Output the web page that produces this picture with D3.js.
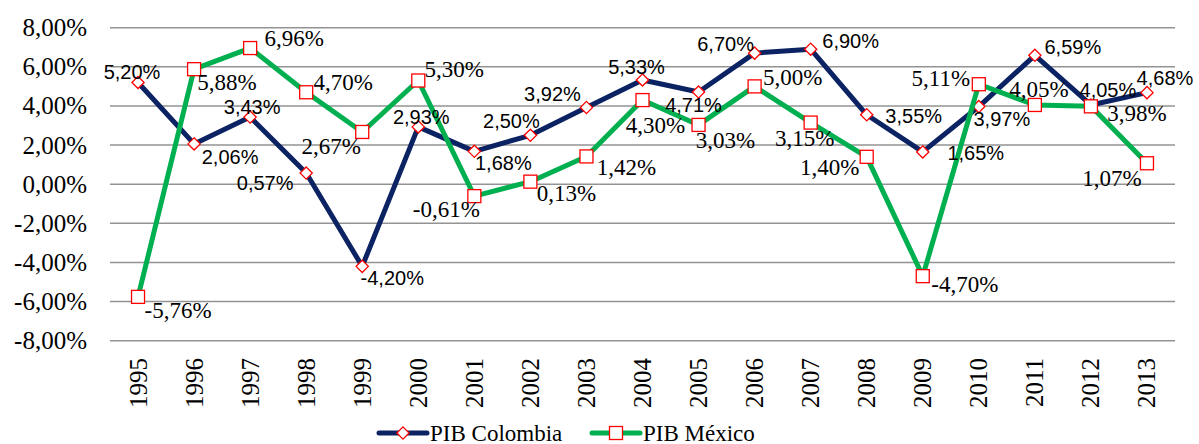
<!DOCTYPE html>
<html>
<head>
<meta charset="utf-8">
<script src="https://cdn.jsdelivr.net/npm/d3@7"></script>
<style>
  body { margin: 0; background: #fff; }
  svg { display: block; }
  .serif { font-family: "Liberation Serif", "Times New Roman", serif; }
  .sans { font-family: "Liberation Sans", Arial, sans-serif; }
</style>
</head>
<body>
<div class="container"></div>
<script>
// data
const years = ["1995","1996","1997","1998","1999","2000","2001","2002","2003","2004",
               "2005","2006","2007","2008","2009","2010","2011","2012","2013"];
const pibColombia = [5.20, 2.06, 3.43, 0.57, -4.20, 2.93, 1.68, 2.50, 3.92, 5.33,
                     4.71, 6.70, 6.90, 3.55, 1.65, 3.97, 6.59, 4.05, 4.68];
const pibMexico = [-5.76, 5.88, 6.96, 4.70, 2.67, 5.30, -0.61, 0.13, 1.42, 4.30,
                   3.03, 5.00, 3.15, 1.40, -4.70, 5.11, 4.05, 3.98, 1.07];
const yTicks = [-8, -6, -4, -2, 0, 2, 4, 6, 8];
const seriesNames = ["PIB Colombia", "PIB México"];

// label placement (dx, dy from the marker), as the labels sit in the picture
const colLabelOff = [[-6,-10],[36,13],[2,-10],[-41,10],[30,12],[3,-10],[29,12],[-19,-14],[-34,-14],[-6,-13],
                     [-5,13],[-29,-9],[40,-8],[47,1],[53,1],[23,12],[38,-8],[17,-15],[18,-15]];
const mexLabelOff = [[40,14],[33,13],[44,-10],[37,-10],[-31,15],[36,-11],[-28,13],[36,12],[40,11],[13,25],
                     [27,16],[38,-9],[-6,16],[-37,11],[42,8],[-38,-6],[4,-15],[46,7],[-35,15]];

const W = 1199, H = 444;
const fmt = v => d3.format(".2f")(v).replace(".", ",").replace("\u2212", "-") + "%";

const svg = d3.select(".container").append("svg")
  .attr("width", W).attr("height", H);

const x = d3.scalePoint().domain(years).range([110, 1175]).padding(0.5);
const y = d3.scaleLinear().domain([-8, 8]).range([340.7, 27.7]);

// grid lines
svg.append("g").selectAll("line").data(yTicks).enter().append("line")
  .attr("x1", 110).attr("x2", 1175)
  .attr("y1", d => y(d)).attr("y2", d => y(d))
  .attr("stroke", "#939393").attr("stroke-width", 1.5);

// y axis labels
svg.append("g").selectAll("text").data(yTicks).enter().append("text")
  .attr("class", "serif")
  .attr("x", 87).attr("y", d => y(d))
  .attr("text-anchor", "end").attr("dominant-baseline", "central")
  .attr("font-size", 25).attr("fill", "#000")
  .text(d => fmt(d));

// x axis labels (rotated)
svg.append("g").selectAll("text").data(years).enter().append("text")
  .attr("class", "serif")
  .attr("transform", d => `translate(${x(d)},358) rotate(-90)`)
  .attr("text-anchor", "end").attr("dominant-baseline", "central")
  .attr("font-size", 25).attr("fill", "#000")
  .text(d => d);

const line = d3.line().x((d, i) => x(years[i])).y(d => y(d));
const diamond = d3.symbol().type(d3.symbolDiamond2).size(95);

function drawSeries(values, color, marker) {
  const g = svg.append("g");
  g.append("path").datum(values)
    .attr("d", line).attr("fill", "none")
    .attr("stroke", color).attr("stroke-width", 5)
    .attr("stroke-linejoin", "round");
  const m = g.selectAll(".m").data(values).enter();
  if (marker === "diamond") {
    m.append("path")
      .attr("transform", (d, i) => `translate(${x(years[i])},${y(d)})`)
      .attr("d", diamond)
      .attr("fill", "#fff").attr("stroke", "#ff0000").attr("stroke-width", 1.3);
  } else {
    m.append("rect")
      .attr("x", (d, i) => x(years[i]) - 6.5).attr("y", d => y(d) - 6.5)
      .attr("width", 13).attr("height", 13)
      .attr("fill", "#fff").attr("stroke", "#ff0000").attr("stroke-width", 1.3);
  }
}

function drawLabels(values, offsets, cls, fsize) {
  svg.append("g").selectAll("text").data(values).enter().append("text")
    .attr("class", cls)
    .attr("x", (d, i) => x(years[i]) + offsets[i][0])
    .attr("y", (d, i) => y(d) + offsets[i][1])
    .attr("text-anchor", "middle").attr("dominant-baseline", "central")
    .attr("font-size", fsize).attr("fill", "#000")
    .text(d => fmt(d));
}

drawSeries(pibColombia, "#0b2263", "diamond");
drawSeries(pibMexico, "#00b050", "square");
drawLabels(pibColombia, colLabelOff, "sans", 20);
drawLabels(pibMexico, mexLabelOff, "serif", 23);

// legend
const legend = svg.append("g");
const legendX = [379, 592];
const legendColors = ["#0b2263", "#00b050"];
seriesNames.forEach((name, i) => {
  const lx = legendX[i], ly = 433;
  legend.append("line").attr("x1", lx).attr("x2", lx + 48)
    .attr("y1", ly).attr("y2", ly)
    .attr("stroke", legendColors[i]).attr("stroke-width", 5).attr("stroke-linecap", "round");
  if (i === 0) {
    legend.append("path").attr("transform", `translate(${lx + 24},${ly})`)
      .attr("d", diamond).attr("fill", "#fff").attr("stroke", "#ff0000").attr("stroke-width", 1.3);
  } else {
    legend.append("rect").attr("x", lx + 24 - 6.5).attr("y", ly - 6.5)
      .attr("width", 13).attr("height", 13)
      .attr("fill", "#fff").attr("stroke", "#ff0000").attr("stroke-width", 1.3);
  }
  legend.append("text").attr("class", "serif")
    .attr("x", lx + 51).attr("y", ly)
    .attr("dominant-baseline", "central")
    .attr("font-size", 23).attr("fill", "#000")
    .text(name);
});
</script>
</body>
</html>
